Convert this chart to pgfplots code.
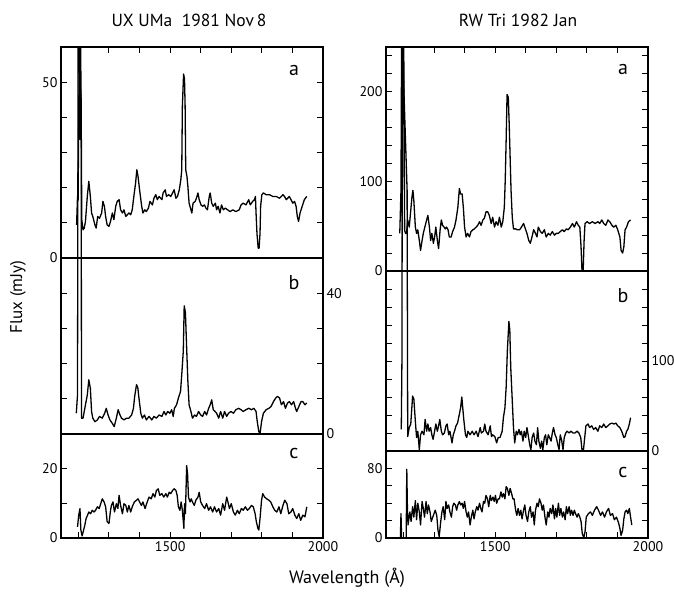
\documentclass[border=0pt]{standalone}
\usepackage{fontspec}
\setmainfont{PT Sans}
\usepackage{pgfplots}
\pgfplotsset{compat=1.18}

\pgfplotsset{
  spec/.style={
    scale only axis, width=262pt,
    xmin=1143, xmax=2000,
    xtick={1200,1300,...,2000},
    axis line style={line width=1.3pt},
    tick style={black, line width=1pt},
    tick align=inside,
    major tick length=6pt,
    every tick label/.append style={font=\fontsize{14}{16}\selectfont},
  },
  toppanel/.style={xtick pos=right, xticklabels={}},
  midpanel/.style={xtick=\empty, clip=false},
  botpanel/.style={xtick pos=left, xticklabels={,,,1500,,,,,2000}},
}
\tikzset{
  letter/.style={font=\fontsize{20}{20}\selectfont, anchor=center},
  specline/.style={black, line width=1.3pt, line join=round},
}

\begin{document}
\begin{tikzpicture}
\useasboundingbox (0pt,0pt) rectangle (674pt,595pt);

% ---------------- UX UMa ----------------
\begin{axis}[spec, toppanel, at={(61pt,337pt)}, anchor=south west, height=211pt,
  ymin=0, ymax=60, ytick={0,10,...,60}, yticklabels={0,,,,,50,}]
\addplot[specline, mark=none] coordinates {
(1194,9.4)(1197,17.5)(1199,16.6)(1201,40.4)(1203,62)(1205,33.7)(1207,62)(1209,43)(1211,10.9)(1215,8.0)(1219,8.5)(1223,10.4)(1229,17.5)(1234,21.8)(1239,17.5)(1243,12.8)(1247,11.8)(1254,9.4)(1258,8.5)(1263,11.8)(1269,11.3)(1276,12.8)(1280,16.1)(1285,14.7)(1289,11.8)(1294,9.4)(1300,9.0)(1305,10.4)(1311,12.8)(1316,10.9)(1322,14.7)(1327,16.1)(1333,16.6)(1338,13.7)(1344,12.8)(1349,13.7)(1355,11.8)(1360,12.3)(1365,12.8)(1371,12.3)(1376,13.7)(1382,18.0)(1387,21.3)(1391,25.1)(1395,23.2)(1400,19.4)(1407,14.7)(1411,12.8)(1417,13.7)(1422,13.2)(1429,14.2)(1434,16.1)(1442,15.1)(1447,17.0)(1453,18.0)(1458,16.6)(1464,17.5)(1473,16.6)(1477,18.5)(1484,19.4)(1488,17.5)(1495,18.0)(1502,17.5)(1508,18.5)(1513,19.4)(1519,17.0)(1524,17.5)(1530,19.4)(1535,22.3)(1538,25.1)(1540,43.2)(1544,52.3)(1547,50.9)(1549,43.2)(1551,25.1)(1555,23.2)(1558,20.4)(1562,15.6)(1568,13.7)(1571,12.8)(1575,15.6)(1582,16.1)(1586,17.0)(1591,18.5)(1595,16.6)(1601,15.1)(1606,14.7)(1612,15.1)(1617,14.2)(1622,13.7)(1628,17.5)(1631,18.5)(1636,15.6)(1641,14.7)(1648,15.6)(1652,13.7)(1657,14.7)(1663,12.8)(1668,15.1)(1674,13.7)(1680,14.2)(1688,13.7)(1696,13.2)(1705,13.7)(1715,13.2)(1726,13.7)(1732,15.1)(1739,15.6)(1748,15.1)(1757,16.6)(1762,15.1)(1770,16.1)(1776,16.6)(1779,17.5)(1781,12.8)(1784,7.0)(1788,2.8)(1791,2.8)(1794,7.0)(1796,14.7)(1800,18.0)(1805,18.5)(1814,18.0)(1825,18.0)(1836,17.5)(1847,17.5)(1858,17.0)(1869,18.0)(1874,17.5)(1880,16.6)(1890,17.5)(1901,15.6)(1907,16.1)(1912,14.7)(1916,11.8)(1920,10.4)(1925,12.8)(1932,14.7)(1939,16.6)(1947,17.5)
};
\node[letter] at (rel axis cs:1,1) [xshift=-29pt, yshift=-23pt] {a};
\end{axis}

\begin{axis}[spec, midpanel, at={(61pt,161pt)}, anchor=south west, height=176pt,
  ymin=0, ymax=50, ytick={0,10,...,50}, yticklabels={0,,,,40,}, yticklabel pos=right]
\addplot[specline, mark=none] coordinates {
(1193,5.9)(1197,11.1)(1199,110)(1209,95)(1210,4.5)(1215,4.5)(1221,7.3)(1229,11.1)(1234,15.4)(1239,13.0)(1243,6.4)(1247,4.5)(1254,3.5)(1262,4.0)(1269,5.0)(1278,4.5)(1286,5.9)(1291,7.3)(1297,5.4)(1303,4.0)(1311,3.0)(1317,2.1)(1324,4.5)(1330,6.9)(1336,5.4)(1341,4.5)(1349,4.0)(1357,4.5)(1365,4.5)(1374,5.4)(1380,7.3)(1384,10.7)(1390,14.0)(1394,13.3)(1398,10.2)(1404,5.9)(1409,4.5)(1416,5.4)(1422,4.0)(1431,5.0)(1440,4.0)(1447,5.0)(1455,4.5)(1464,5.4)(1473,5.0)(1480,6.4)(1486,5.4)(1492,6.4)(1499,5.9)(1505,6.9)(1510,5.0)(1514,7.3)(1521,8.3)(1527,10.2)(1534,12.1)(1538,16.9)(1543,23.5)(1546,36.4)(1550,34.5)(1554,24.5)(1558,15.0)(1562,8.3)(1568,6.4)(1573,4.5)(1580,5.4)(1586,5.0)(1593,6.4)(1600,5.4)(1606,5.0)(1613,6.4)(1619,5.4)(1626,7.3)(1631,8.3)(1636,9.7)(1641,6.9)(1647,6.4)(1652,5.9)(1659,4.5)(1665,6.4)(1672,4.5)(1678,6.4)(1685,5.0)(1691,5.9)(1699,6.4)(1707,5.9)(1715,6.9)(1724,7.3)(1732,6.9)(1739,6.4)(1748,6.9)(1757,7.3)(1766,6.9)(1774,7.3)(1781,6.4)(1785,3.5)(1790,0.7)(1794,0)(1799,3.5)(1805,5.9)(1814,6.9)(1823,7.3)(1830,7.8)(1838,9.2)(1845,10.2)(1851,10.7)(1858,10.2)(1864,8.3)(1871,9.2)(1877,7.3)(1884,8.8)(1890,9.2)(1897,8.3)(1904,9.2)(1910,7.3)(1914,6.4)(1921,7.8)(1928,9.2)(1934,9.2)(1941,8.3)(1947,8.8)
};
\node[letter] at (rel axis cs:1,1) [xshift=-29pt, yshift=-25pt] {b};
\end{axis}

\begin{axis}[spec, botpanel, at={(61pt,57pt)}, anchor=south west, height=104pt,
  ymin=0, ymax=30, ytick={0,10,20,30}, yticklabels={0,,20,}]
\addplot[specline, mark=none] coordinates {
(1197,3.2)(1201,6.6)(1205,8.5)(1208,2.3)(1212,0.6)(1217,2.3)(1221,3.7)(1225,5.6)(1230,6.6)(1234,7.5)(1240,7.0)(1245,8.0)(1251,7.5)(1256,8.0)(1262,9.0)(1268,8.5)(1273,9.9)(1278,11.3)(1284,10.4)(1289,9.0)(1294,4.7)(1300,4.2)(1305,8.0)(1308,9.4)(1313,10.4)(1318,7.5)(1324,9.9)(1329,8.5)(1333,12.3)(1338,9.4)(1344,7.0)(1349,9.9)(1355,9.4)(1360,7.5)(1365,9.4)(1371,7.5)(1376,9.0)(1383,10.4)(1390,10.9)(1395,11.3)(1400,10.4)(1406,9.4)(1411,10.4)(1418,8.5)(1425,10.4)(1431,11.8)(1438,11.3)(1444,12.8)(1450,11.8)(1455,13.7)(1461,14.2)(1466,12.3)(1473,12.8)(1479,11.8)(1486,12.8)(1491,11.8)(1497,13.2)(1502,12.8)(1508,13.7)(1513,14.2)(1519,13.7)(1523,12.3)(1527,9.0)(1532,8.0)(1536,10.4)(1540,8.0)(1545,2.8)(1547,9.9)(1550,7.0)(1554,20.9)(1557,18.5)(1560,11.8)(1565,10.4)(1569,11.3)(1573,10.4)(1579,9.4)(1584,10.9)(1591,11.8)(1595,13.2)(1600,10.4)(1606,9.4)(1613,8.5)(1619,9.9)(1626,8.0)(1632,9.0)(1639,7.5)(1645,9.0)(1652,7.5)(1659,8.5)(1665,6.6)(1672,9.9)(1678,8.0)(1685,11.8)(1689,10.4)(1694,8.5)(1700,9.9)(1707,7.5)(1713,6.6)(1720,8.0)(1726,7.0)(1733,8.5)(1739,8.0)(1746,9.0)(1753,8.0)(1759,8.5)(1766,9.4)(1772,9.0)(1778,7.0)(1782,4.7)(1787,2.8)(1790,2.3)(1794,5.6)(1799,10.9)(1803,12.8)(1809,11.8)(1816,11.3)(1823,10.9)(1829,10.4)(1836,9.0)(1842,8.0)(1849,7.5)(1856,9.0)(1862,7.0)(1869,9.4)(1875,10.9)(1882,9.9)(1888,7.0)(1895,7.5)(1901,8.5)(1908,6.6)(1914,5.6)(1921,7.0)(1927,5.1)(1934,6.6)(1941,6.1)(1947,9.0)
};
\node[letter] at (rel axis cs:1,1) [xshift=-29pt, yshift=-19pt] {c};
\end{axis}

% ---------------- RW Tri ----------------
\begin{axis}[spec, toppanel, at={(386pt,324pt)}, anchor=south west, height=224pt,
  ymin=0, ymax=250, ytick={0,20,...,240}, yticklabels={0,,,,,100,,,,,200,,}]
\addplot[specline, mark=none] coordinates {
(1188,42)(1192,90)(1194,260)(1196,40)(1198,260)(1201,260)(1204,45)(1207,42)(1210,42)(1214,57)(1219,49)(1223,64)(1228,83)(1231,90)(1234,79)(1239,49)(1243,42)(1247,46)(1252,34)(1256,23)(1261,34)(1265,42)(1270,49)(1276,57)(1280,62)(1285,49)(1289,34)(1293,42)(1298,31)(1302,38)(1306,49)(1311,34)(1315,25)(1320,46)(1324,57)(1328,51)(1333,49)(1337,47)(1341,49)(1346,46)(1350,38)(1356,38)(1361,44)(1367,49)(1372,57)(1378,71)(1383,92)(1387,86)(1392,86)(1396,71)(1400,49)(1405,38)(1410,42)(1416,38)(1421,44)(1427,46)(1432,47)(1438,49)(1443,51)(1449,55)(1454,51)(1460,57)(1465,59)(1470,66)(1476,66)(1481,62)(1487,53)(1492,60)(1498,49)(1503,55)(1509,51)(1514,60)(1520,49)(1525,55)(1530,71)(1533,101)(1536,146)(1539,197)(1543,194)(1546,164)(1549,127)(1552,90)(1556,60)(1560,47)(1567,47)(1573,46)(1580,46)(1586,49)(1593,53)(1597,49)(1604,42)(1610,34)(1615,31)(1619,36)(1626,46)(1632,42)(1637,38)(1641,49)(1648,44)(1654,42)(1661,46)(1667,38)(1674,42)(1680,40)(1687,44)(1694,40)(1700,42)(1707,42)(1713,44)(1720,46)(1726,44)(1733,47)(1739,46)(1746,49)(1753,53)(1759,49)(1766,55)(1772,51)(1777,49)(1781,27)(1784,1)(1788,1)(1791,34)(1794,53)(1801,55)(1809,53)(1818,55)(1827,53)(1836,55)(1842,53)(1849,57)(1855,53)(1862,51)(1869,57)(1875,55)(1882,51)(1888,49)(1895,51)(1901,46)(1908,38)(1912,23)(1917,20)(1921,27)(1925,46)(1930,49)(1936,55)(1943,57)
};
\node[letter] at (rel axis cs:1,1) [xshift=-25pt, yshift=-23pt] {a};
\end{axis}

\begin{axis}[spec, midpanel, at={(386pt,144pt)}, anchor=south west, height=180pt,
  ymin=0, ymax=200, ytick={0,20,...,200}, yticklabels={0,,,,,100,,,,,}, yticklabel pos=right]
\addplot[specline, mark=none] coordinates {
(1193,24)(1195,97)(1197,448)(1212,290)(1214,16)(1219,26)(1224,30)(1230,61)(1234,58)(1239,33)(1243,15)(1247,22)(1252,1.5)(1256,18)(1261,22)(1267,18)(1271,35)(1276,22)(1280,30)(1284,22)(1289,26)(1293,18)(1297,13)(1302,22)(1306,30)(1311,22)(1315,28)(1319,35)(1324,22)(1328,18)(1334,20)(1339,28)(1343,30)(1348,18)(1352,22)(1359,9)(1363,18)(1367,22)(1372,28)(1377,31)(1383,41)(1387,48)(1391,60)(1394,48)(1398,33)(1403,18)(1407,15)(1411,22)(1418,18)(1425,22)(1431,18)(1438,22)(1444,16)(1451,26)(1455,20)(1462,22)(1466,30)(1470,22)(1477,18)(1484,28)(1488,16)(1492,18)(1499,16)(1505,9)(1510,15)(1516,15)(1523,22)(1527,37)(1532,48)(1536,71)(1540,112)(1545,144)(1548,134)(1551,93)(1556,56)(1560,26)(1564,9)(1569,22)(1573,18)(1578,24)(1582,18)(1586,22)(1591,11)(1595,22)(1600,15)(1604,26)(1608,18)(1613,7)(1617,1.5)(1621,15)(1626,20)(1630,11)(1635,7)(1639,26)(1643,11)(1648,3)(1652,11)(1656,1.5)(1661,15)(1665,18)(1669,7)(1674,18)(1678,15)(1683,11)(1687,20)(1691,26)(1696,18)(1700,15)(1705,7)(1709,1.5)(1713,18)(1718,11)(1722,1.5)(1726,15)(1731,20)(1735,22)(1742,20)(1748,22)(1755,20)(1761,20)(1768,22)(1774,20)(1780,15)(1784,1.5)(1789,1.5)(1793,15)(1797,28)(1804,30)(1809,26)(1816,28)(1822,24)(1829,26)(1836,22)(1842,28)(1849,26)(1855,30)(1862,26)(1869,28)(1875,30)(1882,31)(1888,30)(1895,31)(1901,28)(1908,26)(1914,22)(1921,15)(1925,16)(1930,22)(1934,24)(1939,30)(1943,37)
};
\node[letter] at (rel axis cs:1,1) [xshift=-25pt, yshift=-25pt] {b};
\end{axis}

\begin{axis}[spec, botpanel, at={(386pt,57pt)}, anchor=south west, height=87pt,
  ymin=0, ymax=100, ytick={0,20,...,100}, yticklabels={0,,,,80,}]
\addplot[specline, mark=none] coordinates {
(1190,0)(1192,28)(1194,0)(1209,0)(1211,79)(1213,35)(1215,15)(1221,30)(1225,19)(1230,36)(1234,24)(1239,43)(1243,21)(1247,40)(1252,30)(1256,15)(1261,42)(1265,34)(1269,24)(1274,42)(1278,28)(1282,38)(1287,30)(1291,19)(1296,24)(1300,28)(1304,32)(1309,26)(1313,9)(1317,1.5)(1322,19)(1326,30)(1330,36)(1335,21)(1339,42)(1343,34)(1348,38)(1352,30)(1357,24)(1361,36)(1365,40)(1370,38)(1374,32)(1378,38)(1383,42)(1387,38)(1392,40)(1396,34)(1400,42)(1405,30)(1409,24)(1413,30)(1418,15)(1422,24)(1427,32)(1431,22)(1435,30)(1440,36)(1444,32)(1449,40)(1453,34)(1457,30)(1462,42)(1466,40)(1470,49)(1475,45)(1479,36)(1484,49)(1488,43)(1493,47)(1497,42)(1501,49)(1505,40)(1510,45)(1514,45)(1519,53)(1523,47)(1527,51)(1532,45)(1536,59)(1540,57)(1545,49)(1549,57)(1554,51)(1558,45)(1562,45)(1567,32)(1571,26)(1575,34)(1580,26)(1584,32)(1588,22)(1593,32)(1597,38)(1601,26)(1606,19)(1610,30)(1615,36)(1619,24)(1624,30)(1628,15)(1632,32)(1637,40)(1641,36)(1645,45)(1650,40)(1654,32)(1658,38)(1663,24)(1667,15)(1672,30)(1676,24)(1680,34)(1685,28)(1689,38)(1694,22)(1698,34)(1702,24)(1707,40)(1711,26)(1715,34)(1720,24)(1724,30)(1729,21)(1733,36)(1737,28)(1742,36)(1746,26)(1750,32)(1755,26)(1759,32)(1763,28)(1768,24)(1772,28)(1777,24)(1781,19)(1785,5)(1790,0.5)(1794,7)(1798,24)(1805,28)(1812,30)(1818,26)(1825,32)(1832,36)(1838,32)(1845,26)(1851,30)(1858,24)(1864,30)(1871,34)(1877,26)(1884,28)(1890,21)(1897,24)(1904,17)(1908,11)(1912,3)(1917,9)(1921,22)(1925,30)(1930,32)(1934,28)(1939,34)(1943,24)(1947,15)
};
\node[letter] at (rel axis cs:1,1) [xshift=-25pt, yshift=-21pt] {c};
\end{axis}

% titles and axis labels
\node[font=\fontsize{17.5}{20}\selectfont] at (189pt,575pt) {UX UMa\ \ 1981 Nov\,8};
\node[font=\fontsize{17.5}{20}\selectfont] at (518pt,575pt) {RW Tri 1982 Jan};
\node[font=\fontsize{17}{20}\selectfont, rotate=90] at (18pt,298pt) {Flux (mJy)};
\node[font=\fontsize{18}{20}\selectfont] at (347pt,17pt) {Wavelength (Å)};
\end{tikzpicture}
\end{document}
